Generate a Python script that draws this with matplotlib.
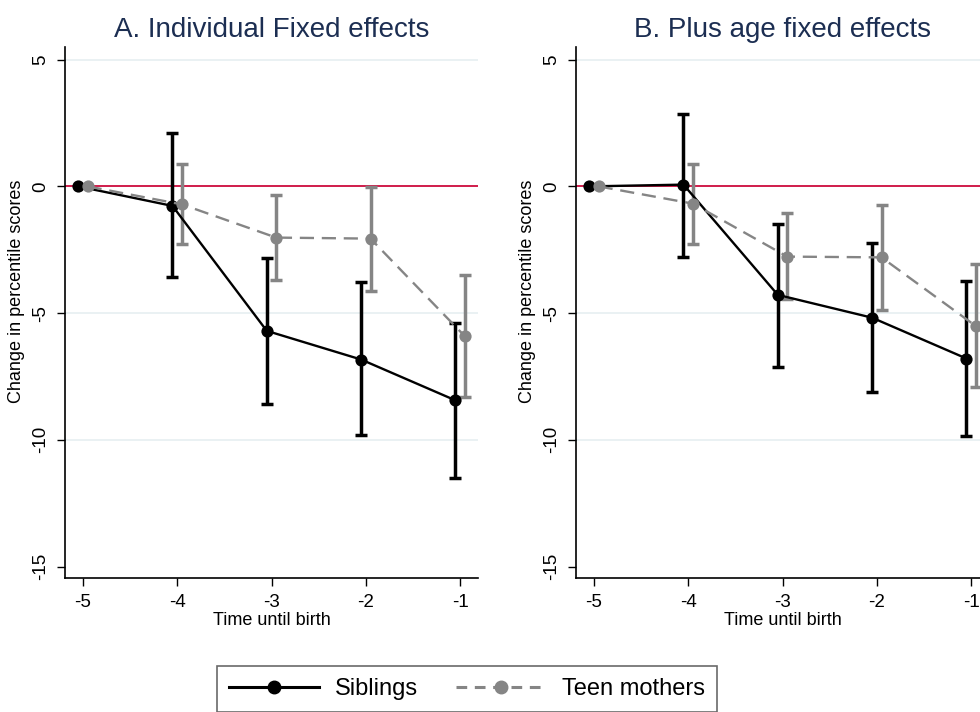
import numpy as np
import matplotlib
matplotlib.use("Agg")
import matplotlib.pyplot as plt
from matplotlib.lines import Line2D

plt.rcParams['font.family'] = ['Liberation Sans', 'DejaVu Sans']

# event time relative to birth
time_until_birth = [-5, -4, -3, -2, -1]

# panel A: individual fixed effects
a_sib_coef = [0.0, -0.77, -5.70, -6.83, -8.44]
a_sib_lo = [0.0, -3.56, -8.60, -9.82, -11.52]
a_sib_hi = [0.0, 2.11, -2.82, -3.78, -5.38]
a_teen_coef = [0.0, -0.71, -2.02, -2.06, -5.91]
a_teen_lo = [0.0, -2.27, -3.70, -4.12, -8.32]
a_teen_hi = [0.0, 0.87, -0.34, -0.03, -3.50]

# panel B: plus age fixed effects
b_sib_coef = [0.0, 0.07, -4.28, -5.18, -6.79]
b_sib_lo = [0.0, -2.77, -7.11, -8.10, -9.83]
b_sib_hi = [0.0, 2.86, -1.47, -2.22, -3.73]
b_teen_coef = [0.0, -0.68, -2.77, -2.80, -5.51]
b_teen_lo = [0.0, -2.26, -4.45, -4.86, -7.93]
b_teen_hi = [0.0, 0.89, -1.05, -0.72, -3.05]

yticks = [5, 0, -5, -10, -15]

BLACK = '#000000'
GREY = '#858585'
RED = '#d01c4b'
NAVY = '#1c2e52'
GRID = '#e6eff1'


def draw_panel(ax, title, sib, teen):
    x = np.array(time_until_birth, dtype=float)
    for coef, lo, hi, color, shift, ls in [
        (*sib, BLACK, -0.05, '-'),
        (*teen, GREY, 0.05, (0, (6, 3.3))),
    ]:
        coef, lo, hi = map(np.asarray, (coef, lo, hi))
        xs = x + shift
        nz = (hi - lo) > 0
        ax.errorbar(xs[nz], coef[nz], yerr=[coef[nz] - lo[nz], hi[nz] - coef[nz]],
                    fmt='none', ecolor=color, elinewidth=2.5, capsize=4.2,
                    capthick=2.5, zorder=3)
        ax.plot(xs, coef, color=color, lw=1.7, ls=ls, marker='o',
                markersize=8.8, markeredgewidth=0, zorder=4)

    for yv in [5, -5, -10]:
        ax.axhline(yv, color=GRID, lw=1.2, zorder=0)
    ax.axhline(0, color=RED, lw=1.4, zorder=1)

    ax.set_xlim(-5.19, -0.81)
    ax.set_ylim(-15.45, 5.5)
    ax.set_xticks(time_until_birth)
    ax.set_xticklabels([str(t) for t in time_until_birth])
    ax.set_yticks(yticks)
    ax.set_yticklabels([str(t) for t in yticks], rotation=90, va='center')
    ax.tick_params(direction='out', length=5.5, width=1.0, labelsize=13.5, pad=6)
    for side in ['top', 'right']:
        ax.spines[side].set_visible(False)
    for side in ['left', 'bottom']:
        ax.spines[side].set_linewidth(1.2)
    ax.set_xlabel('Time until birth', fontsize=13, labelpad=1)
    ax.set_ylabel('Change in percentile scores', fontsize=13)
    ax.yaxis.set_label_coords(-0.097, 0.54)
    ax.set_title(title, fontsize=20, color=NAVY, pad=7)


fig = plt.figure(figsize=(9.8, 7.12), dpi=100)
ax_a = fig.add_axes([65 / 980, 0.1882, 413 / 980, 0.7458])
ax_b = fig.add_axes([576 / 980, 0.1882, 413 / 980, 0.7458])

draw_panel(ax_a, 'A. Individual Fixed effects',
           (a_sib_coef, a_sib_lo, a_sib_hi), (a_teen_coef, a_teen_lo, a_teen_hi))
draw_panel(ax_b, 'B. Plus age fixed effects',
           (b_sib_coef, b_sib_lo, b_sib_hi), (b_teen_coef, b_teen_lo, b_teen_hi))

handles = [
    Line2D([], [], color=BLACK, lw=2.2, marker='o', markersize=9),
    Line2D([], [], color=GREY, lw=2.2, ls=(0, (3.5, 2.5)), marker='o', markersize=9),
]
leg = fig.legend(handles, ['Siblings', 'Teen mothers'], loc='upper center',
                 bbox_to_anchor=(467 / 980, 1 - 666 / 712), ncol=2, fontsize=17,
                 frameon=True, fancybox=False, borderaxespad=0, borderpad=0.5,
                 handlelength=3.8, handletextpad=0.7, columnspacing=1.6)
leg.get_frame().set_edgecolor('#444444')
leg.get_frame().set_linewidth(1.2)

fig.savefig('out.png', dpi=100)
